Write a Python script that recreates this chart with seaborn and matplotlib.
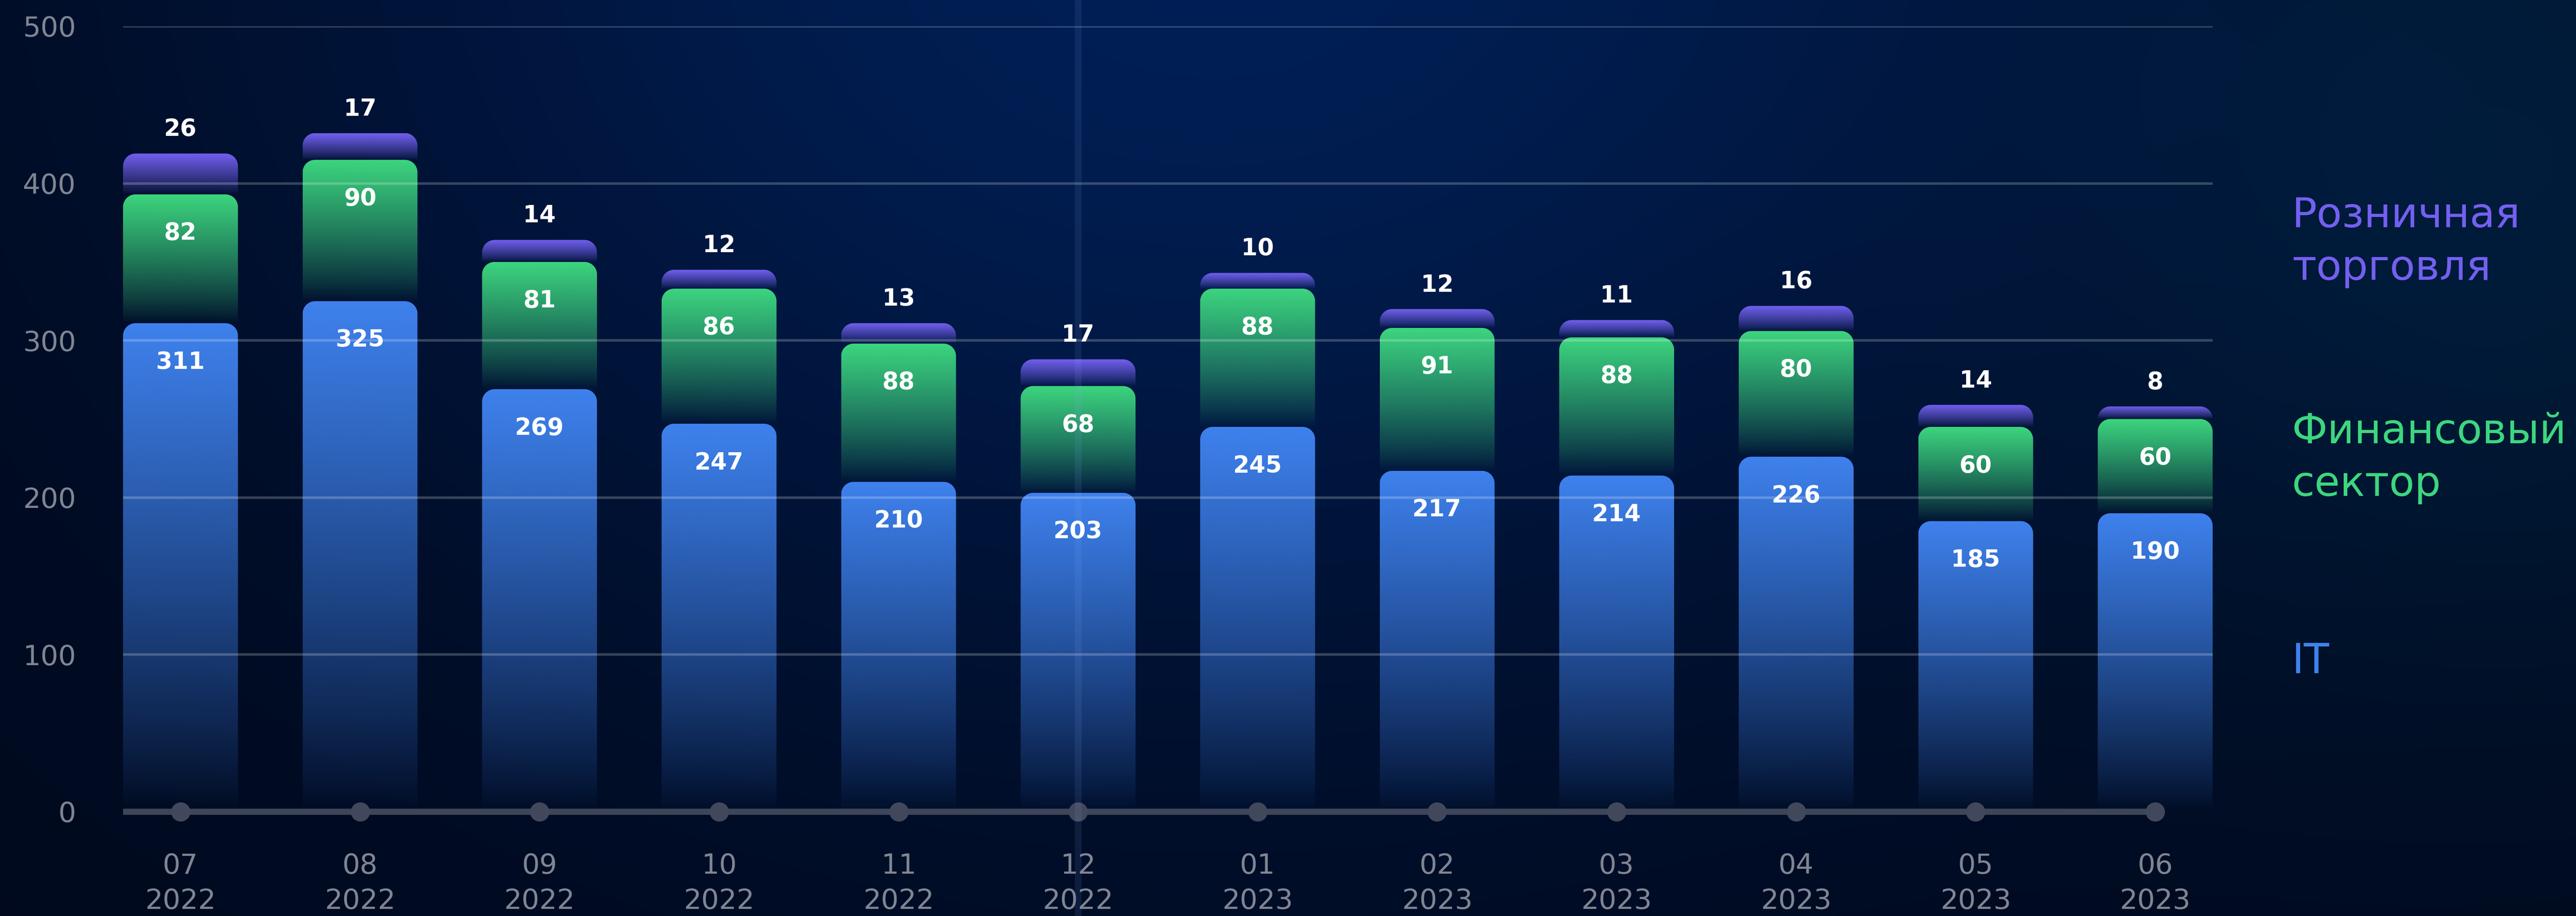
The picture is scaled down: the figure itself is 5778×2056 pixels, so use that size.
import numpy as np
import pandas as pd
import seaborn as sns
import matplotlib.pyplot as plt
from matplotlib.path import Path
from matplotlib.patches import PathPatch
from matplotlib import transforms
from matplotlib.colors import to_rgb

# data
months = ["07", "08", "09", "10", "11", "12", "01", "02", "03", "04", "05", "06"]
years = ["2022"] * 6 + ["2023"] * 6
it_values = [311, 325, 269, 247, 210, 203, 245, 217, 214, 226, 185, 190]
fin_values = [82, 90, 81, 86, 88, 68, 88, 91, 88, 80, 60, 60]
retail_values = [26, 17, 14, 12, 13, 17, 10, 12, 11, 16, 14, 8]
series_names = ["IT", "Финансовый\nсектор", "Розничная\nторговля"]
series_colors = ["#3f82ee", "#3dd67f", "#7360f0"]
y_ticks = [0, 100, 200, 300, 400, 500]

x_labels = [f"{m}\n{y}" for m, y in zip(months, years)]
df = pd.DataFrame({"period": x_labels, "it": it_values,
                   "fin": fin_values, "retail": retail_values})

sns.set_theme(style="dark")
plt.rcParams["font.family"] = ["DejaVu Sans"]

W, H = 5778, 2056
fig = plt.figure(figsize=(W / 100, H / 100), dpi=100)

# background glow
gy, gx = np.mgrid[0:1:300j, 0:1:800j]
base = np.array([0, 9, 28]) / 255
g1 = np.exp(-((gx - 0.47) ** 2) / (2 * 0.27 ** 2) - ((gy + 0.1) ** 2) / (2 * 0.6 ** 2))
g2 = np.exp(-((gx - 1.0) ** 2) / (2 * 0.14 ** 2) - ((gy - 0.2) ** 2) / (2 * 0.4 ** 2))
bg = (base[None, None, :]
      + g1[..., None] * (np.array([1, 22, 58]) / 255)
      + g2[..., None] * (np.array([0, 16, 22]) / 255))
bg_ax = fig.add_axes([0, 0, 1, 1], zorder=-10)
bg_ax.imshow(np.clip(bg, 0, 1), aspect="auto", extent=[0, 1, 0, 1])
bg_ax.axis("off")

ax = fig.add_axes([276 / W, (H - 1822) / H, (4963 - 276) / W, (1822 - 59) / H])
ax.set_facecolor("none")
xlim = (-0.32, 11.32)
ylim = (0, 500)
ax.set_xlim(*xlim)
ax.set_ylim(*ylim)

bbox = ax.get_window_extent()
px_x = bbox.width / (xlim[1] - xlim[0])
px_y = bbox.height / (ylim[1] - ylim[0])
rx, ry = 28 / px_x, 28 / px_y


def rounded_top(x0, x1, y0, y1):
    r_y = min(ry, y1 - y0)
    t = np.linspace(0, np.pi / 2, 16)
    right = np.column_stack([x1 - rx + rx * np.cos(t), y1 - r_y + r_y * np.sin(t)])
    left = np.column_stack([x0 + rx - rx * np.sin(t), y1 - r_y + r_y * np.cos(t)])
    verts = np.vstack([[x0, y0], [x1, y0], right, left, [x0, y0]])
    codes = [Path.MOVETO] + [Path.LINETO] * (len(verts) - 2) + [Path.CLOSEPOLY]
    return Path(verts, codes)


def gradient_bar(x0, x1, y0, y1, color):
    img = np.zeros((256, 1, 4))
    img[:, 0, :3] = to_rgb(color)
    img[:, 0, 3] = np.linspace(0, 1, 256) ** 0.85
    im = ax.imshow(img, extent=[x0, x1, y0, y1], origin="lower", aspect="auto",
                   interpolation="bilinear", zorder=2)
    clip = PathPatch(rounded_top(x0, x1, y0, y1), transform=ax.transData,
                     facecolor="none", edgecolor="none")
    im.set_clip_path(clip)


bottoms = np.zeros(len(months))
centers = []
for key, color in zip(["it", "fin", "retail"], series_colors):
    n_before = len(ax.patches)
    sns.barplot(data=df, x="period", y=key, order=x_labels, color=color,
                width=0.64, errorbar=None, ax=ax)
    bars = ax.patches[n_before:]
    vals = df[key].to_numpy()
    centers = []
    for bar, b, v in zip(bars, bottoms, vals):
        bar.set_visible(False)
        x0, w = bar.get_x(), bar.get_width()
        xc = x0 + w / 2
        centers.append(xc)
        gradient_bar(x0, x0 + w, b, b + v, color)
        dy = 39 if key == "retail" else -63
        ax.annotate(str(v), xy=(xc, b + v), xytext=(0, dy), textcoords="offset points",
                    ha="center", va="center", color="white", fontsize=38,
                    fontweight="bold", zorder=9)
    bottoms = bottoms + vals
    left_edge = bars[0].get_x()

# grid lines over the bars
for t in y_ticks[1:]:
    ax.axhline(t, color="white", alpha=0.22, lw=4, zorder=5)

# baseline with dots
ax.plot([left_edge, centers[-1]], [0, 0], color="#3d4558", lw=10,
        solid_capstyle="butt", clip_on=False, zorder=6)
ax.scatter(centers, np.zeros(len(centers)), s=31 ** 2, color="#41485b",
           zorder=7, clip_on=False, linewidths=0)

# faint vertical light beam through December
trans = transforms.blended_transform_factory(ax.transData, fig.transFigure)
beam_x = centers[x_labels.index("12\n2022")]
ax.plot([beam_x, beam_x], [0, 1], transform=trans, color="#8fb0ff", alpha=0.1,
        lw=11, clip_on=False, zorder=8)

ax.set_xlim(*xlim)
ax.set_ylim(*ylim)
ax.set_yticks(y_ticks)
ax.set_xlabel("")
ax.set_ylabel("")
ax.grid(False)
for s in ax.spines.values():
    s.set_visible(False)
ax.tick_params(axis="y", length=0, pad=76, labelsize=45, labelcolor="#7f8592")
ax.tick_params(axis="x", length=0, pad=66, labelsize=45, labelcolor="#7f8592")
for lbl in ax.get_xticklabels():
    lbl.set_linespacing(1.42)

# legend as coloured text on the right (baseline of the last line)
legend_y = [(H - 1511) / H, (H - 1113) / H, (H - 628) / H]
for name, color, ly in zip(series_names, series_colors, legend_y):
    fig.text(5141 / W, ly, name, color=color, fontsize=67, ha="left",
             va="baseline", linespacing=1.4)

fig.savefig("out.png", dpi=100)
